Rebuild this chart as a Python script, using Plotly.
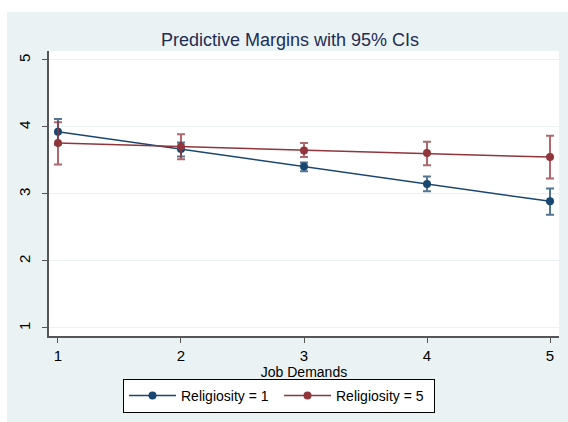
import plotly.graph_objects as go

job_demands = [1, 2, 3, 4, 5]
x_ticks = [1, 2, 3, 4, 5]
y_ticks = [1, 2, 3, 4, 5]

rel1_margin = [3.93, 3.67, 3.41, 3.15, 2.89]
rel1_upper = [4.12, 3.77, 3.47, 3.26, 3.08]
rel1_lower = [3.74, 3.56, 3.34, 3.04, 2.69]

rel5_margin = [3.76, 3.71, 3.65, 3.61, 3.55]
rel5_upper = [4.07, 3.89, 3.76, 3.78, 3.87]
rel5_lower = [3.44, 3.52, 3.55, 3.43, 3.23]

series_names = ["Religiosity = 1", "Religiosity = 5"]
title_text = "Predictive Margins with 95% CIs"
x_title = "Job Demands"

NAVY = "#1A476F"
MAROON = "#90353B"
PANEL = "#EAF2F3"

fig = go.Figure()
for name, m, up, lo, col, ecol in [
    (series_names[0], rel1_margin, rel1_upper, rel1_lower, NAVY, "rgba(26,71,111,0.75)"),
    (series_names[1], rel5_margin, rel5_upper, rel5_lower, MAROON, "rgba(144,53,59,0.75)"),
]:
    fig.add_trace(go.Scatter(
        x=job_demands, y=m, name=name, mode="lines+markers",
        line=dict(color=col, width=1.5),
        marker=dict(color=col, size=8, symbol="circle"),
        error_y=dict(type="data", symmetric=False,
                     array=[u - v for u, v in zip(up, m)],
                     arrayminus=[v - l for v, l in zip(m, lo)],
                     color=ecol, thickness=2, width=4),
    ))

L, R, T, B = 49, 9, 51, 86
W, H = 568, 422
pw, ph = W - L - R, H - T - B

fig.update_layout(
    width=W, height=H,
    margin=dict(l=L, r=R, t=T, b=B, autoexpand=False),
    paper_bgcolor=PANEL,
    plot_bgcolor="white",
    font=dict(family="Liberation Sans, Arial, sans-serif", size=14, color="black"),
    title=dict(text=title_text, x=290 / W, xanchor="center",
               y=1 - 40 / H, yanchor="middle",
               font=dict(size=18, color="#1E2D55")),
    showlegend=True,
    legend=dict(orientation="h", x=(279 - L) / pw, xanchor="center", y=(336 - 379) / ph,
                yanchor="top", bgcolor="white", bordercolor="black", borderwidth=1,
                font=dict(size=14), itemwidth=47, entrywidth=93, entrywidthmode="pixels",
                tracegroupgap=0),
    xaxis=dict(range=[0.927, 5.073], tickvals=x_ticks, ticks="outside", ticklen=5,
               tickcolor="#555", showline=True, linecolor="#555", linewidth=1.5,
               showgrid=False, zeroline=False, automargin=False,
               title=dict(text=x_title, standoff=2, font=dict(size=14)),
               tickfont=dict(size=15)),
    yaxis=dict(range=[0.88, 5.134], tickvals=y_ticks, ticks="outside", ticklen=5,
               tickcolor="#555", showline=True, linecolor="#555", linewidth=1.5,
               showgrid=True, gridcolor=PANEL, gridwidth=1, zeroline=False,
               automargin=False,
               tickangle=-90, tickfont=dict(size=15), ticklabelstandoff=6),
    shapes=[
        dict(type="rect", xref="paper", yref="paper", layer="below",
             x0=-L / pw - 0.01, x1=(7 - L) / pw, y0=-B / ph - 0.01, y1=(H - T) / ph + 0.05,
             fillcolor="white", line=dict(width=0)),
        dict(type="rect", xref="paper", yref="paper", layer="below",
             x0=-L / pw - 0.01, x1=1 + R / pw + 0.01, y0=(336 - 12) / ph, y1=(H - T) / ph + 0.05,
             fillcolor="white", line=dict(width=0)),
    ],
)

fig.write_html("out.html")
